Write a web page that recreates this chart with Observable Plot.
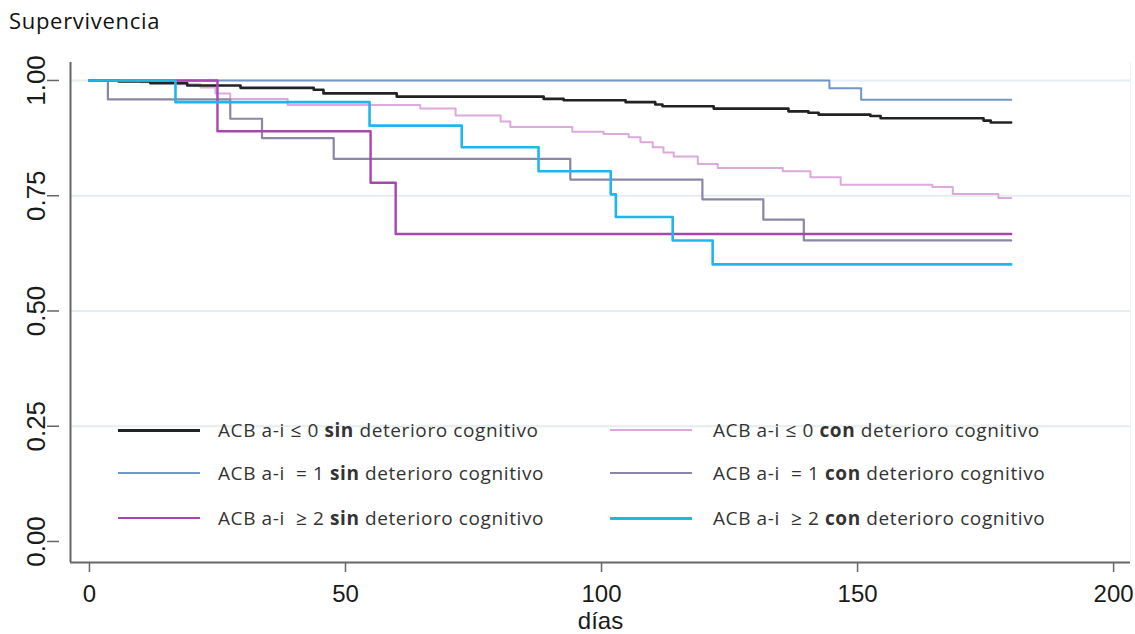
<!DOCTYPE html>
<html><head><meta charset="utf-8">
<script src="https://cdn.jsdelivr.net/npm/d3@7"></script>
<script src="https://cdn.jsdelivr.net/npm/@observablehq/plot@0.6"></script>
<style>
body{margin:0;background:#fff;width:1135px;height:634px;overflow:hidden;position:relative;font-family:"Open Sans",sans-serif}
#title{position:absolute;left:9px;top:9px;font-size:22px;line-height:22px;color:#111;letter-spacing:0.7px}
#topline{position:absolute;left:0;top:47px;width:1135px;height:1px;background:#eef2f4}
#chart{position:absolute;left:0;top:46px}
.leg{position:absolute;display:flex;align-items:center;height:22px;font-size:19px;line-height:22px;color:#333;white-space:pre;letter-spacing:0.6px}
.sw{width:82px;flex:none}
</style></head><body>
<div id="title">Supervivencia</div>
<div id="topline"></div>
<div id="chart"></div>
<div id="legend"></div>
<script>
// ---- data (days, survival) ----
const tBlack = [0, 5.7, 11.9, 19.1, 29.5, 43.8, 45.7, 60, 88.7, 92.6, 104.7, 110.5, 111.9, 121.9, 136.5, 140.4, 142.4, 152.5, 154.5, 174.6, 176, 180];
const sBlack = [1, 0.998, 0.994, 0.989, 0.984, 0.980, 0.972, 0.965, 0.960, 0.957, 0.953, 0.948, 0.944, 0.939, 0.933, 0.930, 0.926, 0.923, 0.918, 0.913, 0.909, 0.909];
const tBlue = [0, 144.5, 150.7, 180];
const sBlue = [1, 0.983, 0.958, 0.958];
const tMagenta = [0, 25, 54.9, 59.8, 180];
const sMagenta = [1, 0.89, 0.778, 0.667, 0.667];
const tPink = [0, 10, 17.2, 21.7, 24.6, 27.5, 38.7, 64.6, 71.5, 80.3, 82.2, 94.3, 100.4, 105.3, 107.6, 110, 112.1, 114.1, 118.8, 122.7, 135.4, 140.8, 146.7, 164.6, 168.6, 177.5, 180];
const sPink = [1, 0.996, 0.992, 0.985, 0.972, 0.960, 0.947, 0.939, 0.924, 0.911, 0.899, 0.889, 0.884, 0.877, 0.866, 0.855, 0.844, 0.835, 0.819, 0.810, 0.803, 0.790, 0.774, 0.769, 0.754, 0.745, 0.745];
const tGray = [0, 3.6, 27.5, 33.7, 47.7, 93.9, 119.7, 131.6, 139.5, 180];
const sGray = [1, 0.959, 0.917, 0.875, 0.830, 0.785, 0.742, 0.698, 0.653, 0.653];
const tCyan = [0, 16.8, 54.7, 72.7, 87.7, 101.8, 102.8, 113.9, 121.7, 180];
const sCyan = [1, 0.953, 0.902, 0.855, 0.803, 0.753, 0.704, 0.653, 0.601, 0.601];

const xTicks = [0, 50, 100, 150, 200];
const yTicks = [0, 0.25, 0.5, 0.75, 1];
const yTickLabels = ["0.00", "0.25", "0.50", "0.75", "1.00"];
const legendPrefix = ["ACB a-i ≤ 0 ", "ACB a-i  = 1 ", "ACB a-i  ≥ 2 "];
const legendBold = ["sin", "con"];
const legendSuffix = " deterioro cognitivo";
const xLabel = "días";

// ---- styles ----
const xDomain = [-3.7, 203.3];
const yDomain = [-0.0456, 1.039];
const seriesStyle = {
  blue:    {t: tBlue, s: sBlue, color: "#7196c9", w: 2},
  pink:    {t: tPink, s: sPink, color: "#dca9da", w: 2},
  gray:    {t: tGray, s: sGray, color: "#8c85a3", w: 2.2},
  black:   {t: tBlack, s: sBlack, color: "#222222", w: 2.6},
  magenta: {t: tMagenta, s: sMagenta, color: "#a845b0", w: 2.4},
  cyan:    {t: tCyan, s: sCyan, color: "#1fb6ee", w: 2.6}
};
const rows = k => seriesStyle[k].t.map((t, i) => ({t, s: seriesStyle[k].s[i]}));

const plot = Plot.plot({
  width: 1135, height: 588,
  marginLeft: 70, marginRight: 5, marginTop: 16, marginBottom: 72,
  x: {domain: xDomain},
  y: {domain: yDomain},
  style: {background: "white", overflow: "visible", fontFamily: "Liberation Sans, Arial, sans-serif"},
  marks: [
    Plot.gridY(yTicks.slice(1), {stroke: "#e4eef1", strokeOpacity: 1, strokeWidth: 2}),
    Plot.ruleX([xDomain[1]], {stroke: "#eef2f4"}),
    ...Object.keys(seriesStyle).map(k => Plot.line(rows(k), {
      x: "t", y: "s", curve: "step-after",
      stroke: seriesStyle[k].color, strokeWidth: seriesStyle[k].w
    })),
    Plot.ruleY([yDomain[0]], {stroke: "#666", strokeWidth: 2}),
    Plot.ruleX([xDomain[0]], {stroke: "#666", strokeWidth: 2}),
    Plot.axisX({ticks: xTicks, tickSize: 10, tickPadding: 12, fontSize: 24, label: null, stroke: "#666", strokeWidth: 1.5, fill: "#1a1a1a"}),
    Plot.axisY({ticks: yTicks, tickSize: 12, tickRotate: -90, dx: -11, fontSize: 26, label: null,
      tickFormat: d => yTickLabels[yTicks.indexOf(d)], stroke: "#666", strokeWidth: 1.5, fill: "#1a1a1a"}),
    Plot.text([xLabel], {frameAnchor: "bottom", text: d => d, dy: 66, lineAnchor: "bottom", fontSize: 24, fill: "#1a1a1a"})
  ]
});
document.getElementById("chart").appendChild(plot);

// ---- legend (HTML, over the plot) ----
const legendOrder = [
  ["black", 0, 0], ["blue", 1, 0], ["magenta", 2, 0],
  ["pink", 0, 1], ["gray", 1, 1], ["cyan", 2, 1]
];
const colX = [{sw: 118, gap: 18}, {sw: 610, gap: 21}];
const rowY = [430, 473, 518];
const leg = document.getElementById("legend");
for (const [k, r, c] of legendOrder) {
  const d = document.createElement("div");
  d.className = "leg";
  d.style.left = colX[c].sw + "px";
  d.style.top = (rowY[r] - 11) + "px";
  const sw = document.createElement("div");
  sw.className = "sw";
  sw.style.height = (seriesStyle[k].w + 0.4) + "px";
  sw.style.background = seriesStyle[k].color;
  sw.style.marginRight = colX[c].gap + "px";
  d.appendChild(sw);
  const tx = document.createElement("span");
  tx.innerHTML = legendPrefix[r] + "<b>" + legendBold[c] + "</b>" + legendSuffix;
  d.appendChild(tx);
  leg.appendChild(d);
}
</script>
</body></html>
